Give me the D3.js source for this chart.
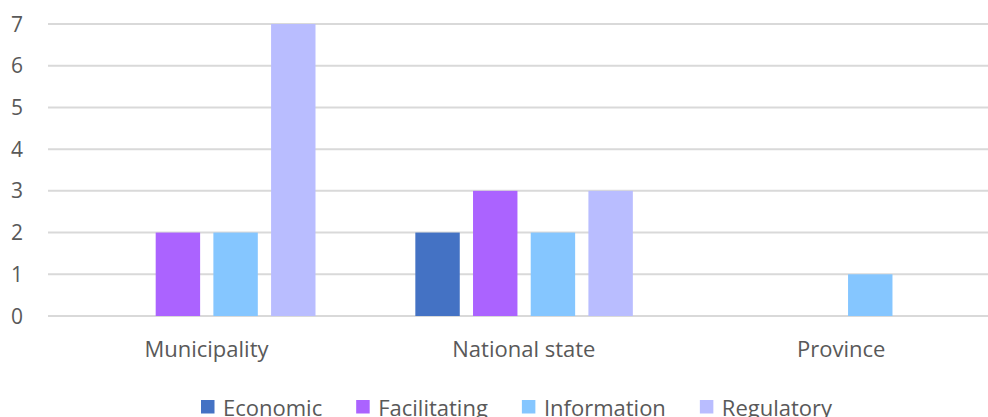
<!DOCTYPE html>
<html>
<head>
<meta charset="utf-8">
<script src="https://cdn.jsdelivr.net/npm/d3@7"></script>
<style>
  body { margin: 0; background: #fff; }
  svg text { font-family: "Open Sans", "DejaVu Sans", sans-serif; fill: #595959; }
</style>
</head>
<body>
<div id="chart"></div>
<script>
var categories = ["Municipality", "National state", "Province"];
var seriesNames = ["Economic", "Facilitating", "Information", "Regulatory"];
var economic = [0, 2, 0];
var facilitating = [2, 3, 0];
var information = [2, 2, 1];
var regulatory = [7, 3, 0];
var yTicks = [0, 1, 2, 3, 4, 5, 6, 7];
var colors = ["#4472c4", "#ab63ff", "#85c6ff", "#b9bdff"];

var width = 988, height = 417;
var seriesValues = [economic, facilitating, information, regulatory];

var svg = d3.select("#chart").append("svg")
  .attr("width", width)
  .attr("height", height);

// plot area (right side runs past the window, like the reference crop)
var x0 = d3.scaleBand().domain(categories).range([48, 1000]);
var x1 = d3.scaleBand().domain(seriesNames).range([50, 267.5]).paddingInner(0.23);
var y = d3.scaleLinear().domain([0, 7]).range([316, 24]);

// gridlines
svg.append("g").selectAll("line")
  .data(yTicks)
  .enter().append("line")
    .attr("x1", 48)
    .attr("x2", width)
    .attr("y1", d => y(d))
    .attr("y2", d => y(d))
    .attr("stroke", "#d9d9d9")
    .attr("stroke-width", 2);

// y tick labels
svg.append("g").selectAll("text")
  .data(yTicks)
  .enter().append("text")
    .attr("x", 23)
    .attr("y", d => y(d))
    .attr("dy", "0.36em")
    .attr("text-anchor", "end")
    .attr("font-size", 21)
    .text(d => d);

// bars
var rows = [];
categories.forEach(function(c, i) {
  seriesNames.forEach(function(s, j) {
    rows.push({ cat: c, series: s, value: seriesValues[j][i], color: colors[j] });
  });
});

svg.append("g").selectAll("rect")
  .data(rows.filter(d => d.value > 0))
  .enter().append("rect")
    .attr("x", d => x0(d.cat) + x1(d.series))
    .attr("y", d => y(d.value))
    .attr("width", x1.bandwidth())
    .attr("height", d => y(0) - y(d.value))
    .attr("fill", d => d.color);

// category labels
svg.append("g").selectAll("text")
  .data(categories)
  .enter().append("text")
    .attr("x", d => x0(d) + 158.5)
    .attr("y", 357)
    .attr("text-anchor", "middle")
    .attr("font-size", 22)
    .text(d => d);

// legend, laid out left to right
var legend = svg.append("g");
var lx = 201;
seriesNames.forEach(function(s, j) {
  legend.append("rect")
    .attr("x", lx)
    .attr("y", 400)
    .attr("width", 13.5)
    .attr("height", 13.5)
    .attr("fill", colors[j]);
  var t = legend.append("text")
    .attr("x", lx + 22)
    .attr("y", 416)
    .attr("font-size", 22)
    .text(s);
  lx = lx + 22 + t.node().getComputedTextLength() + 34;
});
</script>
</body>
</html>
